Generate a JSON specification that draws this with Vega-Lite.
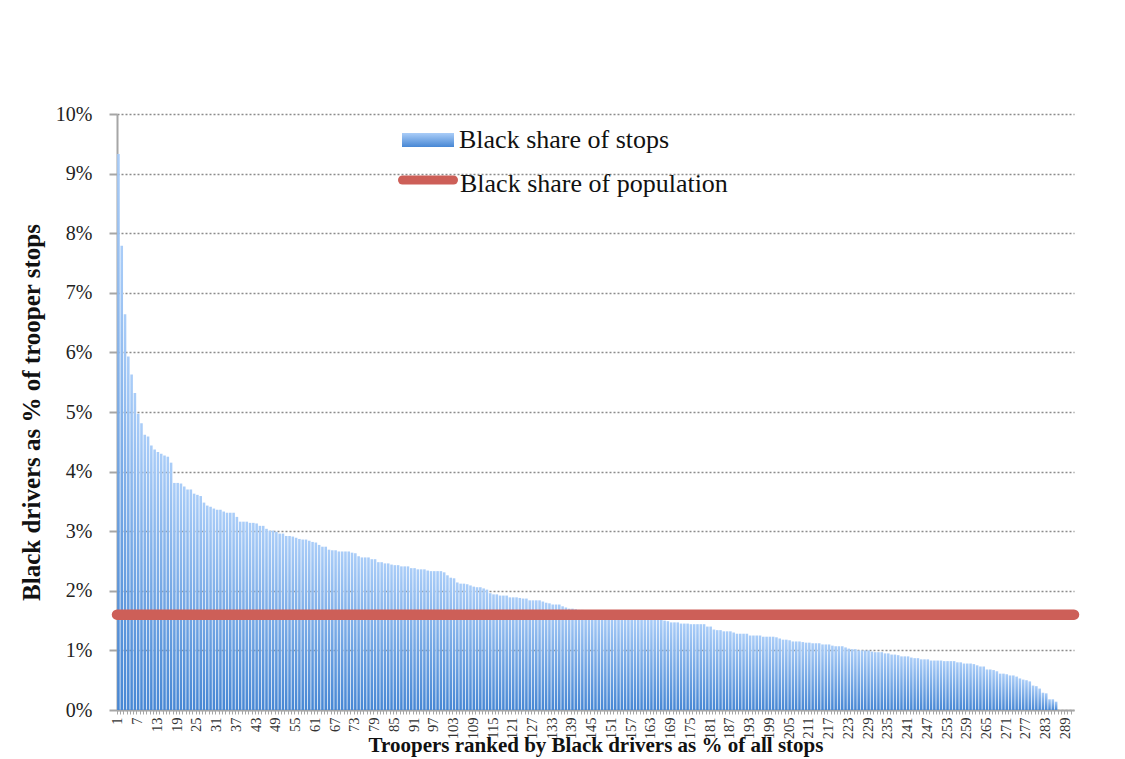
{
  "$schema": "https://vega.github.io/schema/vega-lite/v6.json",
  "width": 957,
  "height": 596,
  "autosize": {"type": "none"},
  "padding": {"left": 117, "top": 114, "right": 51, "bottom": 49},
  "background": "white",
  "datasets": {
    "stops": [
      {"rank":1,"share":0.0933},{"rank":2,"share":0.0779},{"rank":3,"share":0.0664},{"rank":4,"share":0.0593},{"rank":5,"share":0.0563},
      {"rank":6,"share":0.0532},{"rank":7,"share":0.0497},{"rank":8,"share":0.0481},{"rank":9,"share":0.0462},{"rank":10,"share":0.0459},
      {"rank":11,"share":0.0444},{"rank":12,"share":0.0437},{"rank":13,"share":0.0433},{"rank":14,"share":0.0430},{"rank":15,"share":0.0427},
      {"rank":16,"share":0.0425},{"rank":17,"share":0.0415},{"rank":18,"share":0.0381},{"rank":19,"share":0.0381},{"rank":20,"share":0.0380},
      {"rank":21,"share":0.0375},{"rank":22,"share":0.0370},{"rank":23,"share":0.0370},{"rank":24,"share":0.0363},{"rank":25,"share":0.0361},
      {"rank":26,"share":0.0359},{"rank":27,"share":0.0348},{"rank":28,"share":0.0343},{"rank":29,"share":0.0341},{"rank":30,"share":0.0338},
      {"rank":31,"share":0.0336},{"rank":32,"share":0.0336},{"rank":33,"share":0.0333},{"rank":34,"share":0.0331},{"rank":35,"share":0.0331},
      {"rank":36,"share":0.0331},{"rank":37,"share":0.0324},{"rank":38,"share":0.0316},{"rank":39,"share":0.0316},{"rank":40,"share":0.0316},
      {"rank":41,"share":0.0314},{"rank":42,"share":0.0314},{"rank":43,"share":0.0313},{"rank":44,"share":0.0309},{"rank":45,"share":0.0309},
      {"rank":46,"share":0.0304},{"rank":47,"share":0.0301},{"rank":48,"share":0.0301},{"rank":49,"share":0.0299},{"rank":50,"share":0.0296},
      {"rank":51,"share":0.0296},{"rank":52,"share":0.0292},{"rank":53,"share":0.0292},{"rank":54,"share":0.0291},{"rank":55,"share":0.0289},
      {"rank":56,"share":0.0287},{"rank":57,"share":0.0286},{"rank":58,"share":0.0286},{"rank":59,"share":0.0284},{"rank":60,"share":0.0282},
      {"rank":61,"share":0.0281},{"rank":62,"share":0.0277},{"rank":63,"share":0.0274},{"rank":64,"share":0.0274},{"rank":65,"share":0.0269},
      {"rank":66,"share":0.0268},{"rank":67,"share":0.0268},{"rank":68,"share":0.0266},{"rank":69,"share":0.0266},{"rank":70,"share":0.0266},
      {"rank":71,"share":0.0266},{"rank":72,"share":0.0264},{"rank":73,"share":0.0263},{"rank":74,"share":0.0258},{"rank":75,"share":0.0256},
      {"rank":76,"share":0.0256},{"rank":77,"share":0.0256},{"rank":78,"share":0.0253},{"rank":79,"share":0.0253},{"rank":80,"share":0.0248},
      {"rank":81,"share":0.0248},{"rank":82,"share":0.0246},{"rank":83,"share":0.0246},{"rank":84,"share":0.0244},{"rank":85,"share":0.0243},
      {"rank":86,"share":0.0243},{"rank":87,"share":0.0241},{"rank":88,"share":0.0241},{"rank":89,"share":0.0241},{"rank":90,"share":0.0238},
      {"rank":91,"share":0.0238},{"rank":92,"share":0.0236},{"rank":93,"share":0.0236},{"rank":94,"share":0.0236},{"rank":95,"share":0.0234},
      {"rank":96,"share":0.0233},{"rank":97,"share":0.0233},{"rank":98,"share":0.0233},{"rank":99,"share":0.0233},{"rank":100,"share":0.0231},
      {"rank":101,"share":0.0226},{"rank":102,"share":0.0222},{"rank":103,"share":0.0221},{"rank":104,"share":0.0214},{"rank":105,"share":0.0212},
      {"rank":106,"share":0.0212},{"rank":107,"share":0.0211},{"rank":108,"share":0.0209},{"rank":109,"share":0.0207},{"rank":110,"share":0.0206},
      {"rank":111,"share":0.0206},{"rank":112,"share":0.0204},{"rank":113,"share":0.0202},{"rank":114,"share":0.0196},{"rank":115,"share":0.0194},
      {"rank":116,"share":0.0194},{"rank":117,"share":0.0192},{"rank":118,"share":0.0192},{"rank":119,"share":0.0192},{"rank":120,"share":0.0189},
      {"rank":121,"share":0.0189},{"rank":122,"share":0.0189},{"rank":123,"share":0.0188},{"rank":124,"share":0.0187},{"rank":125,"share":0.0187},
      {"rank":126,"share":0.0184},{"rank":127,"share":0.0184},{"rank":128,"share":0.0184},{"rank":129,"share":0.0184},{"rank":130,"share":0.0182},
      {"rank":131,"share":0.0180},{"rank":132,"share":0.0179},{"rank":133,"share":0.0177},{"rank":134,"share":0.0177},{"rank":135,"share":0.0177},
      {"rank":136,"share":0.0174},{"rank":137,"share":0.0172},{"rank":138,"share":0.0170},{"rank":139,"share":0.0170},{"rank":140,"share":0.0169},
      {"rank":141,"share":0.0168},{"rank":142,"share":0.0168},{"rank":143,"share":0.0167},{"rank":144,"share":0.0166},{"rank":145,"share":0.0166},
      {"rank":146,"share":0.0165},{"rank":147,"share":0.0164},{"rank":148,"share":0.0164},{"rank":149,"share":0.0163},{"rank":150,"share":0.0162},
      {"rank":151,"share":0.0162},{"rank":152,"share":0.0161},{"rank":153,"share":0.0160},{"rank":154,"share":0.0160},{"rank":155,"share":0.0159},
      {"rank":156,"share":0.0158},{"rank":157,"share":0.0158},{"rank":158,"share":0.0157},{"rank":159,"share":0.0156},{"rank":160,"share":0.0156},
      {"rank":161,"share":0.0155},{"rank":162,"share":0.0154},{"rank":163,"share":0.0154},{"rank":164,"share":0.0153},{"rank":165,"share":0.0152},
      {"rank":166,"share":0.0151},{"rank":167,"share":0.0150},{"rank":168,"share":0.0149},{"rank":169,"share":0.0147},{"rank":170,"share":0.0147},
      {"rank":171,"share":0.0147},{"rank":172,"share":0.0145},{"rank":173,"share":0.0145},{"rank":174,"share":0.0145},{"rank":175,"share":0.0144},
      {"rank":176,"share":0.0144},{"rank":177,"share":0.0144},{"rank":178,"share":0.0144},{"rank":179,"share":0.0144},{"rank":180,"share":0.0140},
      {"rank":181,"share":0.0140},{"rank":182,"share":0.0135},{"rank":183,"share":0.0134},{"rank":184,"share":0.0134},{"rank":185,"share":0.0132},
      {"rank":186,"share":0.0132},{"rank":187,"share":0.0132},{"rank":188,"share":0.0130},{"rank":189,"share":0.0128},{"rank":190,"share":0.0128},
      {"rank":191,"share":0.0128},{"rank":192,"share":0.0128},{"rank":193,"share":0.0125},{"rank":194,"share":0.0125},{"rank":195,"share":0.0125},
      {"rank":196,"share":0.0125},{"rank":197,"share":0.0123},{"rank":198,"share":0.0123},{"rank":199,"share":0.0123},{"rank":200,"share":0.0123},
      {"rank":201,"share":0.0122},{"rank":202,"share":0.0120},{"rank":203,"share":0.0118},{"rank":204,"share":0.0118},{"rank":205,"share":0.0117},
      {"rank":206,"share":0.0115},{"rank":207,"share":0.0115},{"rank":208,"share":0.0115},{"rank":209,"share":0.0114},{"rank":210,"share":0.0113},
      {"rank":211,"share":0.0113},{"rank":212,"share":0.0112},{"rank":213,"share":0.0112},{"rank":214,"share":0.0112},{"rank":215,"share":0.0110},
      {"rank":216,"share":0.0110},{"rank":217,"share":0.0110},{"rank":218,"share":0.0108},{"rank":219,"share":0.0107},{"rank":220,"share":0.0107},
      {"rank":221,"share":0.0107},{"rank":222,"share":0.0105},{"rank":223,"share":0.0103},{"rank":224,"share":0.0102},{"rank":225,"share":0.0102},
      {"rank":226,"share":0.0100},{"rank":227,"share":0.0100},{"rank":228,"share":0.0100},{"rank":229,"share":0.0100},{"rank":230,"share":0.0098},
      {"rank":231,"share":0.0097},{"rank":232,"share":0.0097},{"rank":233,"share":0.0097},{"rank":234,"share":0.0095},{"rank":235,"share":0.0095},
      {"rank":236,"share":0.0093},{"rank":237,"share":0.0093},{"rank":238,"share":0.0092},{"rank":239,"share":0.0090},{"rank":240,"share":0.0090},
      {"rank":241,"share":0.0090},{"rank":242,"share":0.0088},{"rank":243,"share":0.0087},{"rank":244,"share":0.0087},{"rank":245,"share":0.0085},
      {"rank":246,"share":0.0085},{"rank":247,"share":0.0085},{"rank":248,"share":0.0083},{"rank":249,"share":0.0083},{"rank":250,"share":0.0083},
      {"rank":251,"share":0.0083},{"rank":252,"share":0.0082},{"rank":253,"share":0.0082},{"rank":254,"share":0.0082},{"rank":255,"share":0.0082},
      {"rank":256,"share":0.0080},{"rank":257,"share":0.0080},{"rank":258,"share":0.0078},{"rank":259,"share":0.0078},{"rank":260,"share":0.0078},
      {"rank":261,"share":0.0077},{"rank":262,"share":0.0075},{"rank":263,"share":0.0073},{"rank":264,"share":0.0073},{"rank":265,"share":0.0068},
      {"rank":266,"share":0.0068},{"rank":267,"share":0.0067},{"rank":268,"share":0.0065},{"rank":269,"share":0.0061},{"rank":270,"share":0.0061},
      {"rank":271,"share":0.0060},{"rank":272,"share":0.0058},{"rank":273,"share":0.0058},{"rank":274,"share":0.0056},{"rank":275,"share":0.0053},
      {"rank":276,"share":0.0051},{"rank":277,"share":0.0050},{"rank":278,"share":0.0048},{"rank":279,"share":0.0041},{"rank":280,"share":0.0040},
      {"rank":281,"share":0.0036},{"rank":282,"share":0.0029},{"rank":283,"share":0.0028},{"rank":284,"share":0.0018},{"rank":285,"share":0.0018},
      {"rank":286,"share":0.0014},{"rank":287,"share":0},{"rank":288,"share":0},{"rank":289,"share":0},{"rank":290,"share":0},
      {"rank":291,"share":0}
    ],
    "population": [{"share": 0.016}]
  },
  "layer": [
    {
      "data": {"name": "stops"},
      "mark": {
        "type": "bar",
        "strokeWidth": 0,
        "color": {"gradient": "linear", "x1": 0, "y1": 0, "x2": 0, "y2": 1,
          "stops": [{"offset": 0, "color": "#aacdf8"}, {"offset": 1, "color": "#4787d4"}]}
      },
      "encoding": {
        "x": {
          "field": "rank", "type": "ordinal",
          "scale": {"paddingInner": 0.22, "paddingOuter": 0.05},
          "axis": {
            "title": "Troopers ranked by Black drivers as % of all stops",
            "titleFont": "Liberation Serif", "titleFontSize": 21, "titleFontWeight": "bold", "titleColor": "#111111",
            "titleY": 41, "titleBaseline": "alphabetic",
            "labelAngle": -90, "labelFont": "Liberation Serif", "labelFontSize": 14.5, "labelColor": "#333333",
            "labelExpr": "(datum.value - 1) % 6 === 0 ? datum.label : ''",
            "labelOverlap": false, "labelBound": false, "labelPadding": 3,
            "tickSize": 4, "tickColor": "#a6a6a6", "tickWidth": 1, "bandPosition": 0,
            "domainColor": "#a6a6a6", "domainWidth": 2, "grid": false
          }
        },
        "y": {
          "field": "share", "type": "quantitative",
          "scale": {"domain": [0, 0.1], "nice": false},
          "axis": {
            "title": "Black drivers as % of trooper stops",
            "titleFont": "Liberation Serif", "titleFontSize": 25, "titleFontWeight": "bold", "titleColor": "#111111",
            "titleX": -86, "titleY": 298, "titleBaseline": "middle", "titleAngle": -90,
            "values": [0, 0.01, 0.02, 0.03, 0.04, 0.05, 0.06, 0.07, 0.08, 0.09, 0.1],
            "format": ".0%",
            "labelFont": "Liberation Serif", "labelFontSize": 20, "labelColor": "#222222", "labelPadding": 17,
            "tickSize": 8, "tickWidth": 2, "tickColor": "#a6a6a6",
            "domainColor": "#a6a6a6", "domainWidth": 2,
            "grid": true, "gridDash": [2, 2], "gridColor": "#8c8c8c", "gridWidth": 1.3
          }
        },
        "stroke": {
          "datum": "Black share of stops",
          "scale": {"range": ["#6da5e6"]},
          "legend": {
            "title": null, "orient": "none", "legendX": 285, "legendY": 0, "padding": 0,
            "symbolType": "M-1,-0.27H1V0.27H-1Z", "symbolSize": 2704, "symbolStrokeWidth": 0,
            "labelFont": "Liberation Serif", "labelFontSize": 26, "labelColor": "#111111", "labelOffset": 5, "labelLimit": 500,
            "encode": {
              "symbols": {"update": {
                "fill": {"value": {"gradient": "linear", "x1": 0, "y1": 0, "x2": 0, "y2": 1,
                  "stops": [{"offset": 0, "color": "#aacdf8"}, {"offset": 1, "color": "#4787d4"}]}},
                "strokeWidth": {"value": 0}, "opacity": {"value": 1}}},
              "labels": {"update": {"dy": {"value": 3}}}
            }
          }
        }
      }
    },
    {
      "data": {"name": "population"},
      "mark": {"type": "rule", "strokeWidth": 10.5, "strokeCap": "round"},
      "encoding": {
        "y": {"field": "share", "type": "quantitative"},
        "color": {
          "datum": "Black share of population",
          "scale": {"range": ["#cd5f58"]},
          "legend": {
            "title": null, "orient": "none", "legendX": 281, "legendY": 36, "padding": 0,
            "symbolType": "stroke", "symbolSize": 2601, "symbolStrokeWidth": 9,
            "labelFont": "Liberation Serif", "labelFontSize": 26, "labelColor": "#111111", "labelOffset": 2, "labelLimit": 500,
            "encode": {
              "symbols": {"update": {"strokeCap": {"value": "round"}, "opacity": {"value": 1}}},
              "labels": {"update": {"dy": {"value": 4}}}
            }
          }
        }
      }
    }
  ],
  "config": {
    "view": {"stroke": null},
    "font": "Liberation Serif"
  }
}
